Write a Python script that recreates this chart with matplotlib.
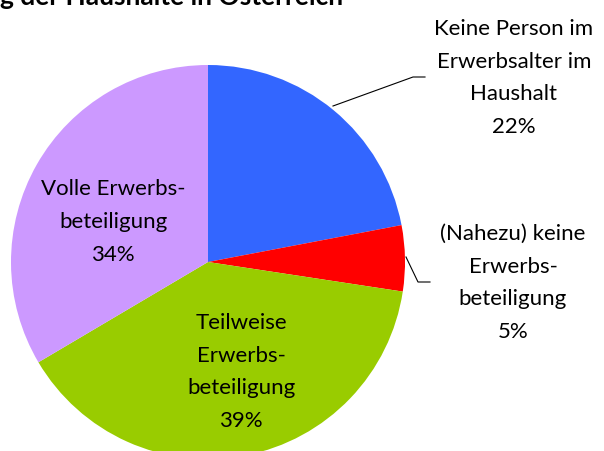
import matplotlib
matplotlib.use("Agg")
import matplotlib.pyplot as plt

# data
categories = [
    "Keine Person im\nErwerbsalter im\nHaushalt",
    "(Nahezu) keine\nErwerbs-\nbeteiligung",
    "Teilweise\nErwerbs-\nbeteiligung",
    "Volle Erwerbs-\nbeteiligung",
]
shares = [22.0, 5.4, 39.1, 33.5]
colors = ["#3366FF", "#FF0000", "#99CC00", "#CC99FF"]
title = "g der Haushalte in Österreich"

W, H = 604, 452
plt.rcParams["font.family"] = ["Lato", "DejaVu Sans"]

fig = plt.figure(figsize=(W / 100, H / 100), dpi=100)
ax = fig.add_axes([0, 0, 1, 1])


def py(y):
    # pixel row from top -> data y
    return H - y


cx, cy, r = 208, py(263), 197
ax.pie(shares, colors=colors, startangle=90, counterclock=False,
       center=(cx, cy), radius=r, wedgeprops=dict(linewidth=0),
       frame=True)
ax.set_xlim(0, W)
ax.set_ylim(0, H)
ax.set_aspect("equal")
ax.axis("off")

# label positions (pixel coords) and leader lines
label_pos = [(514, 78), (513, 283), (241, 372), (113, 222)]
for text, val, (lx, ly) in zip(categories, shares, label_pos):
    ax.text(lx, py(ly), f"{text}\n{val:.0f}%", ha="center", va="center",
            fontsize=16, linespacing=1.8, color="black")

leaders = [
    [(333, 107), (413, 78), (425, 78)],
    [(406, 258), (418, 283), (430, 283)],
]
for pts in leaders:
    ax.plot([p[0] for p in pts], [py(p[1]) for p in pts], color="black", lw=0.8)

fig.text(0, 1 - 5 / H, title, ha="left", va="baseline", fontsize=19,
         fontweight="bold")

fig.savefig("out.png", dpi=100)
